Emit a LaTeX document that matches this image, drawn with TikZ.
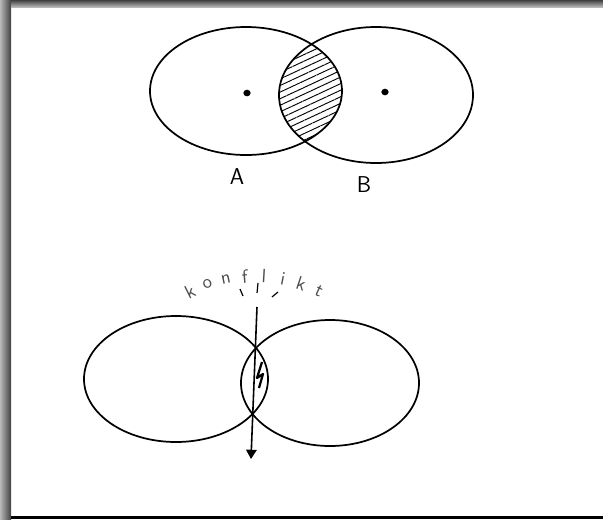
\documentclass[tikz,border=0pt]{standalone}
\usetikzlibrary{arrows.meta,patterns.meta,shapes.geometric}

\begin{document}
\begin{tikzpicture}[x=0.0265cm, y=-0.0265cm,
        set/.style={line width=1.3pt},
        hatch/.style={pattern={Lines[angle=25, distance=4.5pt, line width=0.7pt]}},
        spot/.style={ellipse, fill, inner sep=0pt, minimum width=5.5pt, minimum height=5pt},
        lbl/.style={font=\sffamily\LARGE},
        letter/.style={font=\sffamily\Large, inner sep=0pt, text=black!70},
        arrow/.style={-{Triangle[length=7pt, width=8pt]}, line width=1.2pt}
    ]
    \useasboundingbox (0,0) rectangle (603,519);

    % --- Frame ---
    \shade[left color=gray!55, right color=black!75] (0,0) rectangle (11,519);
    \shade[top color=black!75, bottom color=gray!55] (11,0) rectangle (603,7);
    \fill[black] (11,516) rectangle (603,519);

    % --- Top: A and B with common part ---
    \begin{scope}
        \clip (246,91) ellipse [x radius=96, y radius=64];
        \fill[hatch] (376,95) ellipse [x radius=97, y radius=68];
    \end{scope}
    \draw[set] (246,91) ellipse [x radius=96, y radius=64];
    \draw[set] (376,95) ellipse [x radius=97, y radius=68];
    \node[spot] (dotA) at (247,93) {};
    \node[spot] (dotB) at (385,92) {};
    \node[lbl] (labA) at (237,177) {A};
    \node[lbl] (labB) at (364,185) {B};

    % --- Bottom: conflict ---
    \draw[set] (176,379) ellipse [x radius=92, y radius=63];
    \draw[set] (330,383) ellipse [x radius=89, y radius=63];

    % text on an arc
    \foreach \ch [count=\i] in {k,o,n,f,l,i,k,t} {
        \pgfmathsetmacro{\ang}{124-7.5*\i}
        \node[letter, rotate=\ang-90] (ch\i) at ({255+146*cos(\ang)},{422-146*sin(\ang)}) {\ch};
    }

    % rays
    \draw[line width=0.9pt] (240,289) -- (243,296);
    \draw[line width=0.9pt] (258,283) -- (257,293);
    \draw[line width=0.9pt] (272,297) -- (278,292);

    % arrow through the middle
    \coordinate (top) at (257,307);
    \coordinate (tip) at (251,459);
    \draw[arrow] (top) -- (tip);

    % flash
    \draw[line width=1.7pt, line join=round] (262,362) -- (257,378) -- (263,374) -- (259,388);

\end{tikzpicture}
\end{document}
